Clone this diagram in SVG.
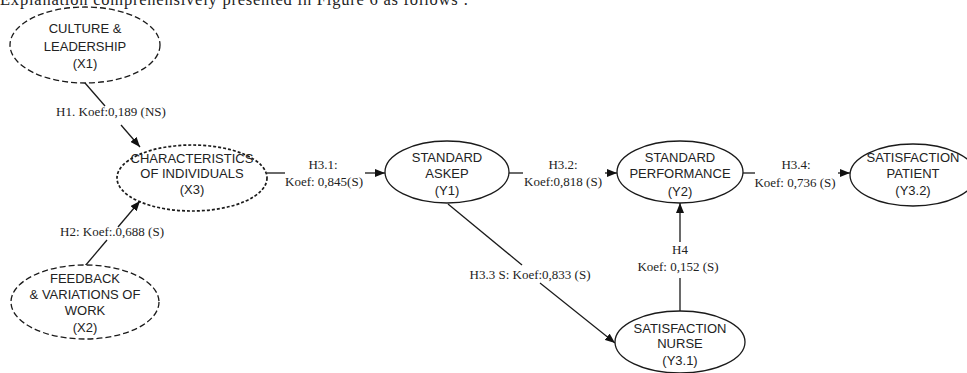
<svg xmlns="http://www.w3.org/2000/svg" width="967" height="373" viewBox="0 0 967 373">
<style>
.bg{fill:#fff}
.node{fill:#fff;stroke:#1a1a1a;stroke-width:1.3}
.dash{stroke-dasharray:6 3}
.dot{stroke-dasharray:3 2;stroke-width:1.7}
.nt{font-family:"Liberation Sans",Arial,sans-serif;font-size:13px;fill:#222;text-anchor:middle}
.lt{font-family:"Liberation Serif","Times New Roman",serif;font-size:13px;fill:#222;text-anchor:middle}
.edge{stroke:#1a1a1a;stroke-width:1.3;fill:none}
</style>
<defs>
<marker id="ah" viewBox="0 0 10 8" refX="10" refY="4" markerWidth="10" markerHeight="8" markerUnits="userSpaceOnUse" orient="auto">
<path d="M0,0 L10,4 L0,8 Z" fill="#111"/>
</marker>
</defs>
<rect class="bg" x="0" y="0" width="967" height="373"/>
<text x="0" y="4.5" font-family="'Liberation Serif','Times New Roman',serif" font-size="16.5" fill="#222" textLength="468" lengthAdjust="spacing">Explanation comprehensively presented in Figure 6 as follows :</text>

<g id="connectors">
<line class="edge" x1="85" y1="83" x2="105" y2="106"/>
<line class="edge" x1="121" y1="125" x2="140" y2="147" marker-end="url(#ah)"/>
<line class="edge" x1="85" y1="266" x2="107" y2="240"/>
<line class="edge" x1="118" y1="227" x2="140" y2="201" marker-end="url(#ah)"/>
<line class="edge" x1="267" y1="173" x2="285" y2="173"/>
<line class="edge" x1="365" y1="173" x2="385" y2="173" marker-end="url(#ah)"/>
<line class="edge" x1="509" y1="173" x2="523" y2="173"/>
<line class="edge" x1="605" y1="173" x2="617" y2="173" marker-end="url(#ah)"/>
<line class="edge" x1="743" y1="173" x2="755" y2="173"/>
<line class="edge" x1="838" y1="173" x2="850" y2="173" marker-end="url(#ah)"/>
<line class="edge" x1="448" y1="204" x2="522" y2="265"/>
<line class="edge" x1="540" y1="283" x2="615" y2="343" marker-end="url(#ah)"/>
<line class="edge" x1="680" y1="312" x2="680" y2="278"/>
<line class="edge" x1="680" y1="242" x2="680" y2="203" marker-end="url(#ah)"/>
<text class="lt" x="111" y="116">H1. Koef:0,189 (NS)</text>
<text class="lt" x="112" y="236">H2: Koef:.0,688 (S)</text>
<text class="lt" x="323" y="169">H3.1:</text>
<text class="lt" x="324" y="186">Koef: 0,845(S)</text>
<text class="lt" x="563" y="169">H3.2:</text>
<text class="lt" x="563" y="186">Koef:0,818 (S)</text>
<text class="lt" x="796" y="169">H3.4:</text>
<text class="lt" x="795" y="187">Koef: 0,736 (S)</text>
<text class="lt" x="530" y="279">H3.3 S: Koef:0,833 (S)</text>
<text class="lt" x="680" y="254">H4</text>
<text class="lt" x="678" y="271">Koef: 0,152 (S)</text>
</g>

<g id="X1">
<ellipse class="node dash" cx="85" cy="45" rx="75" ry="38"/>
<text class="nt" x="85" y="33">CULTURE &amp;</text>
<text class="nt" x="85" y="51">LEADERSHIP</text>
<text class="nt" x="85" y="68">(X1)</text>
</g>

<g id="X3">
<ellipse class="node dot" cx="192" cy="178" rx="75" ry="33"/>
<text class="nt" x="192" y="163">CHARACTERISTICS</text>
<text class="nt" x="192" y="178">OF INDIVIDUALS</text>
<text class="nt" x="192" y="194">(X3)</text>
</g>

<g id="X2">
<ellipse class="node dash" cx="85" cy="302" rx="74" ry="37"/>
<text class="nt" x="85" y="283">FEEDBACK</text>
<text class="nt" x="85" y="299">&amp; VARIATIONS OF</text>
<text class="nt" x="85" y="315">WORK</text>
<text class="nt" x="85" y="332">(X2)</text>
</g>

<g id="Y1">
<ellipse class="node" cx="447" cy="172" rx="62" ry="31"/>
<text class="nt" x="447" y="162">STANDARD</text>
<text class="nt" x="447" y="178">ASKEP</text>
<text class="nt" x="447" y="195">(Y1)</text>
</g>

<g id="Y2">
<ellipse class="node" cx="680" cy="172" rx="63" ry="31"/>
<text class="nt" x="680" y="162">STANDARD</text>
<text class="nt" x="680" y="178">PERFORMANCE</text>
<text class="nt" x="680" y="196">(Y2)</text>
</g>

<g id="Y32">
<ellipse class="node" cx="913" cy="175" rx="63" ry="31"/>
<text class="nt" x="913" y="162">SATISFACTION</text>
<text class="nt" x="913" y="178">PATIENT</text>
<text class="nt" x="913" y="195">(Y3.2)</text>
</g>

<g id="Y31">
<ellipse class="node" cx="680" cy="342" rx="65" ry="31"/>
<text class="nt" x="680" y="333">SATISFACTION</text>
<text class="nt" x="680" y="348">NURSE</text>
<text class="nt" x="680" y="365">(Y3.1)</text>
</g>
</svg>
